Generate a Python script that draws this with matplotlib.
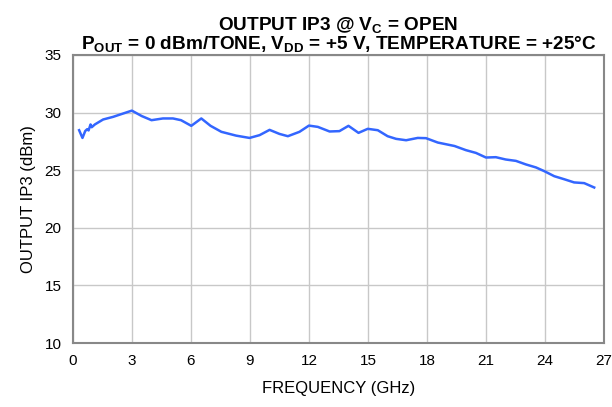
import numpy as np
from matplotlib import pyplot as plt

plt.rcParams['font.family'] = ['Liberation Sans', 'DejaVu Sans']
plt.rcParams['mathtext.fontset'] = 'custom'
plt.rcParams['mathtext.rm'] = 'Liberation Sans'
plt.rcParams['mathtext.bf'] = 'Liberation Sans:bold'

# Output IP3 vs frequency
freq = [0.32, 0.49, 0.63, 0.73, 0.8, 0.9, 0.96, 1.12, 1.54, 2.05, 3.0, 3.5, 4.0,
        4.58, 5.09, 5.5, 6.02, 6.53, 7.0, 7.55, 8.3, 8.98, 9.49, 10.0, 10.5, 10.93,
        11.52, 12.0, 12.45, 13.05, 13.55, 14.01, 14.52, 14.99, 15.5, 16.0, 16.43,
        16.94, 17.53, 17.95, 18.55, 19.4, 19.98, 20.49, 21.0, 21.5, 22.0, 22.52,
        23.03, 23.54, 23.96, 24.47, 24.97, 25.48, 25.99, 26.5]
oip3 = [28.47, 27.8, 28.4, 28.56, 28.45, 28.97, 28.73, 28.97, 29.4, 29.63, 30.17, 29.7, 29.34,
        29.49, 29.49, 29.34, 28.85, 29.49, 28.85, 28.33, 28.0, 27.8, 28.04, 28.5, 28.15, 27.95,
        28.33, 28.87, 28.76, 28.36, 28.39, 28.85, 28.24, 28.59, 28.47, 27.95, 27.72,
        27.6, 27.8, 27.78, 27.4, 27.1, 26.74, 26.5, 26.1, 26.13, 25.93, 25.81,
        25.5, 25.24, 24.92, 24.48, 24.22, 23.94, 23.88, 23.5]

x_ticks = np.arange(0, 28, 3)
y_ticks = np.arange(10, 36, 5)

fig = plt.figure(figsize=(6.12, 4.07), dpi=100)
ax = fig.add_axes([0.119, 0.157, 0.868, 0.708])

ax.plot(freq, oip3, color='#3366ff', lw=1.8)

ax.set_xlim(0, 27)
ax.set_ylim(10, 35)
ax.set_xticks(x_ticks)
ax.set_yticks(y_ticks)
ax.grid(True, color='#c8c8c8', lw=1)
ax.set_axisbelow(True)
ax.tick_params(length=0, labelsize=11, pad=8)
for s in ax.spines.values():
    s.set_color('#888888')
    s.set_linewidth(1.5)

ax.set_xlabel("FREQUENCY (GHz)", fontsize=12, labelpad=9)
ax.set_ylabel("OUTPUT IP3 (dBm)", fontsize=12, labelpad=6)
ax.set_title("OUTPUT IP3 @ V$_\\mathbf{C}$ = OPEN\n"
             "P$_\\mathbf{OUT}$ = 0 dBm/TONE, V$_\\mathbf{DD}$ = +5 V, TEMPERATURE = +25°C",
             fontsize=13.7, fontweight='bold', pad=4, linespacing=0.88)

fig.savefig("out.png", dpi=100)
